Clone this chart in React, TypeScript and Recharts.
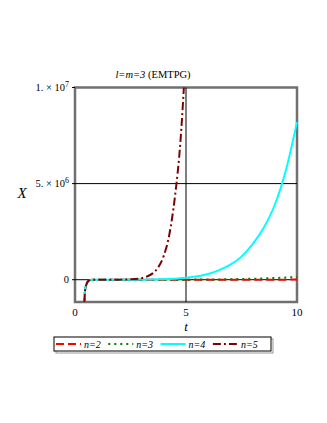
import React from "react"
import { ComposedChart, Line, XAxis, YAxis, ReferenceLine, ReferenceArea } from "recharts"

// t samples and the four solutions X(t)
const tValues = [0.4, 0.45, 0.5, 0.55, 0.6, 0.7, 0.8, 1, 1.5, 2, 2.5, 3, 3.25, 3.5, 3.75, 4, 4.25, 4.5, 4.75, 5, 5.5, 6, 6.5, 7, 7.5, 8, 8.5, 9, 9.5, 10]
const n2Values = [-2.0e6, -0.6e6, -0.3e6, -0.15e6, -0.07e6, -0.02e6, -0.005e6, 0, 0, 0, 0, 0, 0, 0, 0, 0, 0, 0, 0, 0, 0, 0, 0, 0, 0.001e6, 0.001e6, 0.002e6, 0.003e6, 0.004e6, 0.005e6]
const n3Values = [-2.0e6, -0.6e6, -0.3e6, -0.15e6, -0.07e6, -0.02e6, -0.005e6, 0, 0, 0, 0, 0, 0, 0, 0, 0, 0, 0, 0, 0.002e6, 0.005e6, 0.01e6, 0.015e6, 0.025e6, 0.035e6, 0.05e6, 0.065e6, 0.085e6, 0.11e6, 0.14e6]
const n4Values = [-2.0e6, -0.58e6, -0.28e6, -0.14e6, -0.07e6, -0.02e6, -0.005e6, 0, 0, 0, 0.002e6, 0.005e6, 0.008e6, 0.012e6, 0.018e6, 0.025e6, 0.035e6, 0.05e6, 0.07e6, 0.1e6, 0.18e6, 0.3e6, 0.5e6, 0.78e6, 1.2e6, 1.85e6, 2.7e6, 3.9e6, 5.7e6, 8.2e6]
const n5Values = [-2.0e6, -0.6e6, -0.3e6, -0.15e6, -0.07e6, -0.02e6, -0.005e6, 0, 0, 0.003e6, 0.02e6, 0.08e6, 0.17e6, 0.33e6, 0.65e6, 1.25e6, 2.35e6, 4.3e6, 7.2e6, 1.2e7, null, null, null, null, null, null, null, null, null, null]

const xTicks = [0, 5, 10]
const yTicks = [0, 5e6, 1e7]
const yTickText = ["0", "5. × 10", "1. × 10"]
const yTickExp = ["", "6", "7"]

const seriesNames = ["n=2", "n=3", "n=4", "n=5"]
const seriesKeys = ["n2", "n3", "n4", "n5"]
const seriesColors = ["#ff0000", "#008000", "#00ffff", "#800000"]
const seriesDashes = ["8 4", "2 4", undefined, "8 3 2 3"]

const data = tValues.map((t, i) => ({
  t,
  n2: n2Values[i],
  n3: n3Values[i],
  n4: n4Values[i],
  n5: n5Values[i],
}))

const Y_MIN = -1.16e6
const Y_MAX = 1e7
const FONT = "'Liberation Serif', 'Times New Roman', serif"

const YTick = ({ x, y, payload }: any) => {
  const idx = yTicks.indexOf(payload.value)
  return (
    <text x={x} y={y + 3.5} textAnchor="end" fontFamily={FONT} fontSize={10.5} fill="#000">
      {yTickText[idx]}
      {yTickExp[idx] && (
        <tspan dy={-4} fontSize={8}>
          {yTickExp[idx]}
        </tspan>
      )}
    </text>
  )
}

const XTick = ({ x, y, payload }: any) => (
  <text x={x} y={y} dy="0.71em" textAnchor="middle" fontFamily={FONT} fontSize={11} fill="#000">
    {payload.value}
  </text>
)

export default function App() {
  return (
    <div style={{ position: "absolute", left: 0, top: 0, width: 327, height: 423, background: "#fff" }}>
      <ComposedChart width={327} height={423} data={data} margin={{ top: 87.5, right: 30, left: 15, bottom: 91 }}>
        <XAxis
          dataKey="t"
          type="number"
          domain={[0, 10]}
          ticks={xTicks}
          tickLine={false}
          axisLine={false}
          tickSize={0}
          tickMargin={6}
          height={30}
          tick={<XTick />}
          label={{
            content: ({ viewBox }: any) => (
              <text x={viewBox.x + viewBox.width / 2} y={viewBox.y + 28.5} textAnchor="middle" fontFamily={FONT} fontStyle="italic" fontSize={13}>
                t
              </text>
            ),
          }}
        />
        <YAxis
          type="number"
          domain={[Y_MIN, Y_MAX]}
          allowDataOverflow
          ticks={yTicks}
          width={60}
          axisLine={false}
          tickSize={3}
          tickMargin={3}
          tickLine={{ stroke: "#000" }}
          tick={<YTick />}
          label={{
            content: ({ viewBox }: any) => (
              <text x={viewBox.x + 7} y={viewBox.y + viewBox.height / 2 + 3} textAnchor="middle" fontFamily={FONT} fontStyle="italic" fontSize={15}>
                X
              </text>
            ),
          }}
        />
        <ReferenceArea x1={0} x2={10} y1={Y_MIN} y2={Y_MAX} fill="none" stroke="#707070" strokeWidth={2.5} />
        <ReferenceLine x={5} stroke="#000" strokeWidth={1} />
        <ReferenceLine y={5e6} stroke="#000" strokeWidth={1} />
        <ReferenceLine y={0} stroke="#000" strokeWidth={1} />
        {seriesKeys.map((k, i) => (
          <Line
            key={k}
            dataKey={k}
            type="monotone"
            stroke={seriesColors[i]}
            strokeWidth={2}
            strokeDasharray={seriesDashes[i]}
            dot={false}
            activeDot={false}
            connectNulls={false}
            isAnimationActive={false}
          />
        ))}
      </ComposedChart>
      <svg width={327} height={423} style={{ position: "absolute", left: 0, top: 0, pointerEvents: "none" }}>
        <text x={153} y={78} textAnchor="middle" fontFamily={FONT} fontSize={10.5}>
          <tspan fontStyle="italic">l=m=3</tspan> (EMTPG)
        </text>
        <rect x={55} y={338} width={217} height={14} fill="#fff" stroke="#999" strokeWidth={1} transform="translate(1,1)" />
        <rect x={54} y={337} width={217} height={14} fill="#fff" stroke="#000" strokeWidth={1} />
        {seriesNames.map((name, i) => {
          const x0 = 56 + i * 52.3
          return (
            <g key={name}>
              <line x1={x0} y1={344} x2={x0 + 25} y2={344} stroke={seriesColors[i]} strokeWidth={2} strokeDasharray={seriesDashes[i]} />
              <text x={x0 + 28} y={347.5} fontFamily={FONT} fontStyle="italic" fontSize={10}>
                {name}
              </text>
            </g>
          )
        })}
      </svg>
    </div>
  )
}
